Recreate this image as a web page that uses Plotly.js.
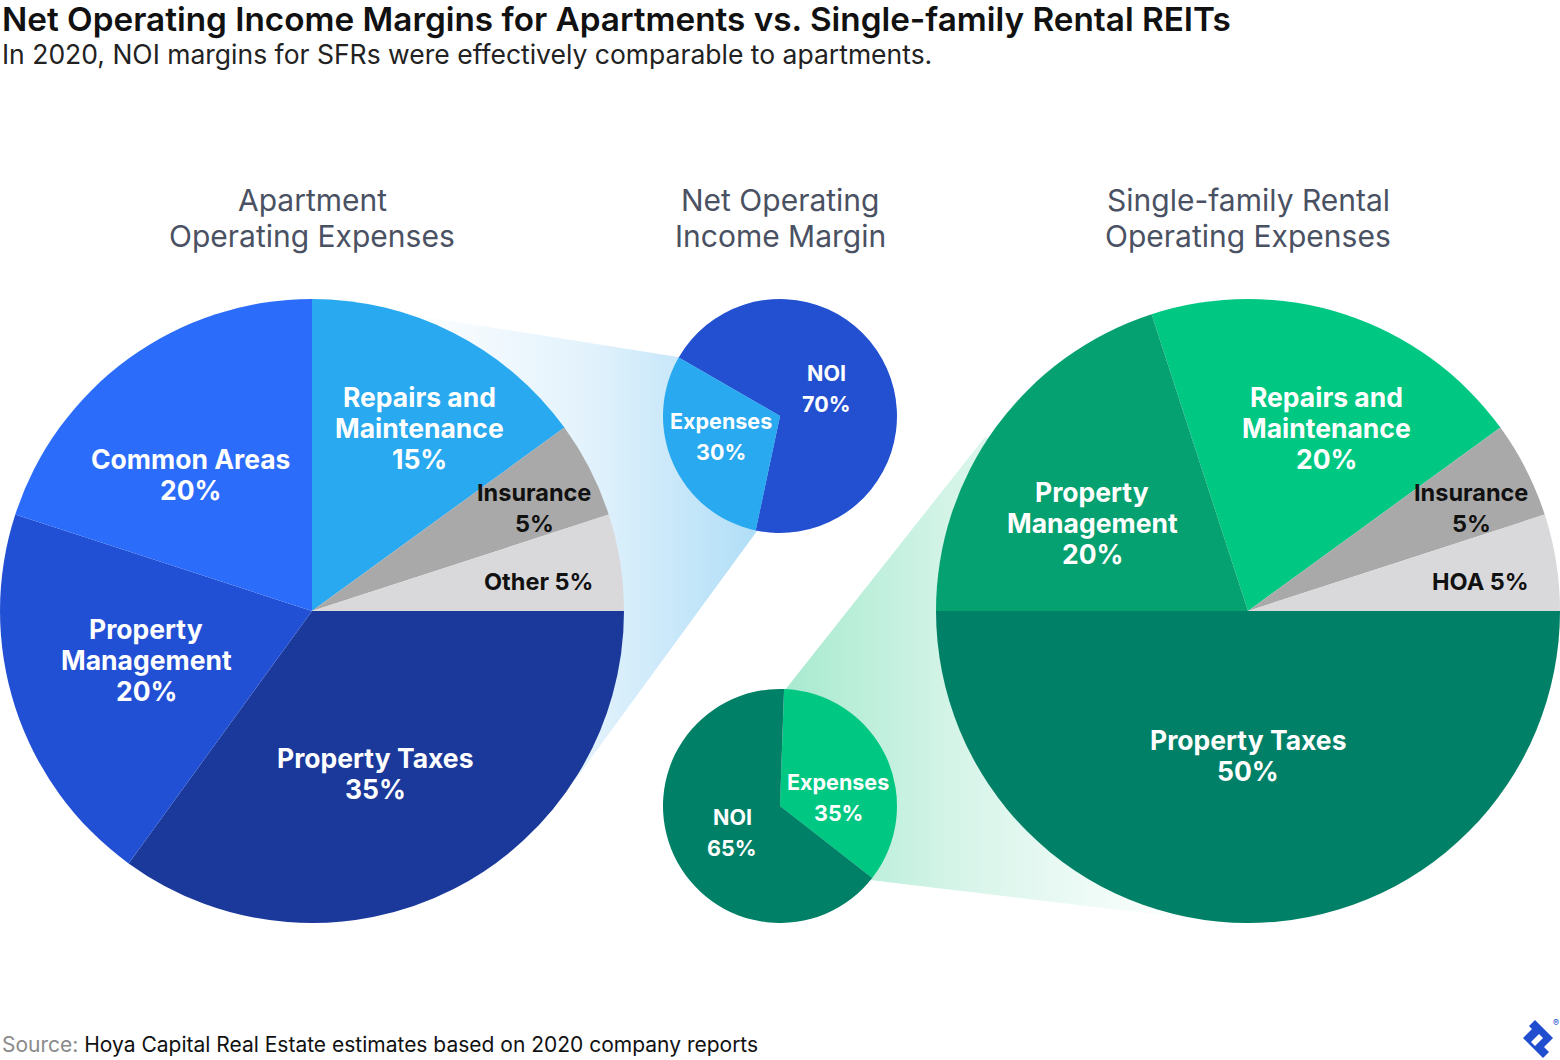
<!DOCTYPE html>
<html><head><meta charset="utf-8">
<script src="https://cdn.plot.ly/plotly-3.0.1.min.js"></script>
<style>html,body{margin:0;padding:0;background:#fff}#chart{width:1560px;height:1060px}</style>
</head><body><div id="chart"></div>
<script>
// ---------------- DATA ----------------
const aptLabels = ['Repairs and Maintenance', 'Insurance', 'Other', 'Property Taxes', 'Property Management', 'Common Areas'];
const aptValues = [15, 5, 5, 35, 20, 20];
const noiAptLabels = ['NOI', 'Expenses'];
const noiAptValues = [70, 30];
const noiSfrLabels = ['Expenses', 'NOI'];
const noiSfrValues = [35, 65];
const sfrLabels = ['Repairs and Maintenance', 'Insurance', 'HOA', 'Property Taxes', 'Property Management'];
const sfrValues = [20, 5, 5, 50, 20];
const panelTitles = [['Apartment', 'Operating Expenses'], ['Net Operating', 'Income Margin'], ['Single-family Rental', 'Operating Expenses']];
const titleText = 'Net Operating Income Margins for Apartments vs. Single-family Rental REITs';
const subtitleText = 'In 2020, NOI margins for SFRs were effectively comparable to apartments.';
const sourceLead = 'Source:';
const sourceText = 'Hoya Capital Real Estate estimates based on 2020 company reports';

// ---------------- STYLE / LAYOUT ----------------
const W = 1560, H = 1060;
const FONT = 'Inter, Lato, sans-serif';
const aptColors = ['#29a9ef', '#a9a9a9', '#d9d9dc', '#1a399b', '#2250d4', '#2b6cfb'];
const noiAptColors = ['#2250d0', '#29a9ef'];
const noiSfrColors = ['#00c882', '#008066'];
const sfrColors = ['#00c882', '#a9a9a9', '#d9d9dc', '#008066', '#06a170'];
const darkText = '#111111';

function dom(x0, y0, x1, y1) { return {x: [x0 / W, x1 / W], y: [1 - y1 / H, 1 - y0 / H]}; }

function lineSplit(label) {
  if (label === 'Repairs and Maintenance') return ['Repairs and', 'Maintenance'];
  if (label === 'Property Management') return ['Property', 'Management'];
  return [label];
}
const inlinePct = {'Other': true, 'HOA': true};

const BIG = 26.5, SMALL = 23.5, MINI = 21.5;
const pieDefs = [
  {labels: aptLabels, values: aptValues, colors: aptColors, box: [0, 299, 624, 923], rotation: 0,
   pos: [[419, 428], [534, 508], [538, 581], [375, 773], [146, 660], [190, 474]],
   txt: ['#fff', darkText, darkText, '#fff', '#fff', '#fff'], size: [BIG, SMALL, SMALL, BIG, BIG, BIG]},
  {labels: noiAptLabels, values: noiAptValues, colors: noiAptColors, box: [663, 299, 897, 533], rotation: -60,
   pos: [[826, 388], [721, 436]], txt: ['#fff', '#fff'], size: [MINI, MINI]},
  {labels: noiSfrLabels, values: noiSfrValues, colors: noiSfrColors, box: [663, 689, 897, 923], rotation: 2,
   pos: [[838, 797], [732, 832]], txt: ['#fff', '#fff'], size: [MINI, MINI]},
  {labels: sfrLabels, values: sfrValues, colors: sfrColors, box: [936, 299, 1560, 923], rotation: -18,
   pos: [[1326, 428], [1471, 508], [1480, 581], [1248, 755], [1092, 523]],
   txt: ['#fff', darkText, darkText, '#fff', '#fff'], size: [BIG, SMALL, SMALL, BIG, BIG]}
];

const annotations = [];
function addLines(lines, cx, cy, spacing, size, color, weight, anchor) {
  const n = lines.length;
  lines.forEach((t, i) => {
    annotations.push({x: cx, y: cy + (i - (n - 1) / 2) * spacing, xref: 'x', yref: 'y', text: t,
      showarrow: false, xanchor: anchor || 'center', yanchor: 'middle',
      font: {family: FONT, size: size, color: color, weight: weight}});
  });
}

const traces = [];
// gradient connector cones (drawn beneath the pies)
const coneTop = {x: [312, 678, 780, 757, 575, 312], y: [299, 357, 416, 531, 780, 611]};
const coneBot = {x: [785, 985, 1248, 1180, 870, 780], y: [690, 437, 611, 917, 880, 806]};
traces.push({type: 'scatter', x: coneTop.x, y: coneTop.y, mode: 'none', fill: 'toself', hoverinfo: 'skip', showlegend: false,
  fillgradient: {type: 'horizontal', start: 400, stop: 780,
    colorscale: [[0, '#ffffff'], [0.5, '#e2f2fc'], [1, '#a9dbf6']]}});
traces.push({type: 'scatter', x: coneBot.x, y: coneBot.y, mode: 'none', fill: 'toself', hoverinfo: 'skip', showlegend: false,
  fillgradient: {type: 'horizontal', start: 785, stop: 1190,
    colorscale: [[0, '#a8eacf'], [0.45, '#d8f5ea'], [1, '#ffffff']]}});

pieDefs.forEach(d => {
  traces.push({type: 'pie', labels: d.labels, values: d.values, sort: false, direction: 'clockwise',
    rotation: d.rotation, marker: {colors: d.colors, line: {width: 0}}, textinfo: 'none',
    hoverinfo: 'label+percent', showlegend: false,
    domain: dom(d.box[0], d.box[1], d.box[2], d.box[3])});
  const total = d.values.reduce((a, b) => a + b, 0);
  d.labels.forEach((lab, i) => {
    const pct = Math.round(d.values[i] / total * 100) + '%';
    let lines;
    if (inlinePct[lab]) lines = [lab + ' ' + pct];
    else lines = lineSplit(lab).concat([pct]);
    addLines(lines, d.pos[i][0], d.pos[i][1], 31, d.size[i], d.txt[i], 700);
  });
});

// panel headers
const headerX = [312, 780, 1248];
panelTitles.forEach((t, i) => addLines(t, headerX[i], 218, 36, 30, '#4a5163', 400));

// title, subtitle, source
annotations.push({x: 0, y: 19, xref: 'x', yref: 'y', xanchor: 'left', yanchor: 'middle', showarrow: false,
  text: titleText, font: {family: FONT, size: 33.3, color: '#111', weight: 600}});
annotations.push({x: 0, y: 54, xref: 'x', yref: 'y', xanchor: 'left', yanchor: 'middle', showarrow: false,
  text: subtitleText, font: {family: FONT, size: 26.5, color: '#222', weight: 400}});
annotations.push({x: 0, y: 1044, xref: 'x', yref: 'y', xanchor: 'left', yanchor: 'middle', showarrow: false,
  text: '<span style="color:#8a8a8a">' + sourceLead + '</span> ' + sourceText,
  font: {family: FONT, size: 21, color: '#111', weight: 400}});
annotations.push({x: 1556, y: 1022, xref: 'x', yref: 'y', xanchor: 'center', yanchor: 'middle', showarrow: false,
  text: '®', font: {family: FONT, size: 9, color: '#204ecf'}});

const shapes = [
  {type: 'path', xref: 'x', yref: 'y', path: 'M1535,1020 L1553,1038 L1544,1047 L1549,1052 L1543,1058 L1523,1038 L1532,1029 L1529,1026 Z',
   fillcolor: '#204ecf', line: {width: 0}},
  {type: 'path', xref: 'x', yref: 'y', path: 'M1531,1042 L1539,1034 L1543,1038 L1535,1046 Z',
   fillcolor: '#ffffff', line: {width: 0}}
];

const layout = {
  width: W, height: H, margin: {l: 0, r: 0, t: 0, b: 0, pad: 0},
  paper_bgcolor: '#ffffff', plot_bgcolor: 'rgba(0,0,0,0)', showlegend: false,
  xaxis: {range: [0, W], visible: false, fixedrange: true},
  yaxis: {range: [H, 0], visible: false, fixedrange: true},
  annotations: annotations, shapes: shapes,
  font: {family: FONT}
};
Plotly.newPlot('chart', traces, layout, {displayModeBar: false, staticPlot: true});
</script>
</body></html>
